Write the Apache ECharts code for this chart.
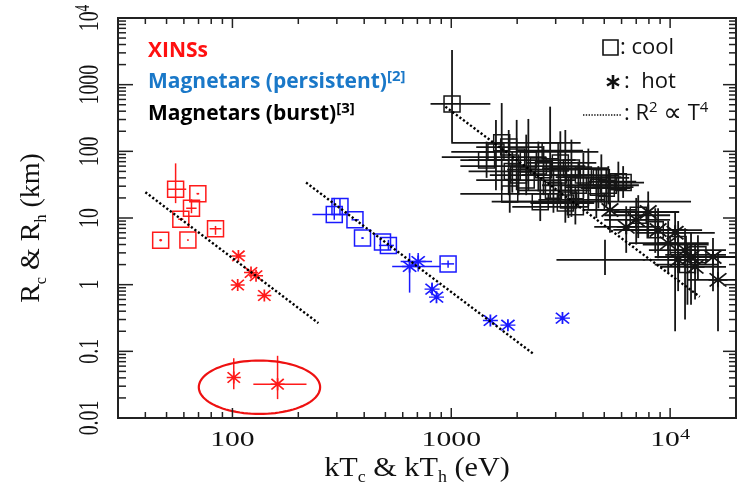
<!DOCTYPE html>
<html><head><meta charset="utf-8">
<script src="https://cdn.jsdelivr.net/npm/echarts@6/dist/echarts.min.js"></script>
<style>html,body{margin:0;padding:0;background:#fff}#c{width:747px;height:488px}</style>
</head><body><div id="c"></div>
<script>
// rows: [kT (eV), R (km), kT low, kT high, R low, R high]  (null = no error bar)
const xinsCool = [
  [55, 27, 50.4, 61.5, 16.7, 66],
  [69.5, 23.2, 68.5, 70.5, 22.6, 23.8],
  [65, 14, 61.5, 68.6, 11.8, 19.1],
  [58.1, 9.6, 56.5, 59.7, 9.2, 10.0],
  [83.7, 6.9, 78.7, 89, 5.6, 7.6],
  [47, 4.65, 46.3, 47.7, 4.45, 4.85],
  [62.6, 4.66, 62.2, 63.0, 4.55, 4.77]
];
const xinsHot = [
  [106.5, 2.7, null, null, null, null],
  [105.7, 0.99, null, null, null, null],
  [121.6, 1.52, null, null, null, null],
  [128.2, 1.36, null, null, null, null],
  [139.9, 0.687, null, null, null, null],
  [101.4, 0.0405, null, null, 0.0271, 0.079],
  [160.8, 0.0322, 124.6, 218, 0.0192, 0.0857]
];
const persCool = [
  [292, 11.3, 232, 330, 9.4, 20],
  [310, 14.9, null, null, 11, 19.5],
  [363, 9.4, 350, 378, null, null],
  [393, 5.0, 388, 398, 4.85, 5.15],
  [485, 4.38, null, null, null, null],
  [516, 3.88, 467, 547, 3.3, 4.7],
  [967, 2.05, 900, 1030, 1.8, 2.3]
];
const persHot = [
  [645, 1.87, 537, 893, 0.76, 2.97],
  [706, 2.22, 587, 817, 1.57, 2.98],
  [817, 0.857, null, null, 0.76, 1.08],
  [856, 0.65, null, null, null, null],
  [1509, 0.29, null, null, null, null],
  [1815, 0.247, null, null, null, null],
  [3222, 0.315, null, null, null, null]
];
const burstCool = [
  [1008, 514, 804, 1509, 137, 3311],
  [1700, 134, 1000, 3900, 26, 530],
  [1600, 98, 1000, 4700, 26, 296],
  [1990, 82, 905, 2720, 26, 296],
  [2250, 74, 1200, 3700, 26, 306],
  [2830, 102, 2000, 4000, 18.7, 468],
  [3150, 67, 2200, 4600, 20, 200],
  [3540, 56, 2600, 5200, 10.4, 150],
  [4230, 41, 3000, 6000, 15, 110],
  [4850, 40, 3500, 6500, 17, 90],
  [5800, 35, 4200, 7000, 18, 70],
  [6100, 34, 4800, 7600, 20, 60],
  [3690, 14.7, 1900, 4230, 8, 30],
  [3430, 18.7, 2500, 5000, 10, 40],
  [4700, 29, 3300, 6800, 14, 60],
  [3320, 16.8, 2300, 4500, 8.5, 209],
  [5110, 28, 3900, 6600, 15, 55],
  [1830, 116, 1300, 2600, 22, 209],
  [1450, 74, 1100, 2000, 40, 140],
  [2640, 53, 1800, 3800, 22, 120],
  [2500, 60, 1100, 4100, 25, 140],
  [3090, 44, 2100, 4500, 18, 100],
  [3810, 31, 2600, 5500, 14, 70],
  [1900, 50, 1200, 2870, 24, 100],
  [2030, 44, 1500, 2700, 22, 90],
  [4015, 44, 2800, 5800, 20, 95],
  [5220, 31, 3800, 7200, 16, 60],
  [2930, 26, 2000, 4300, 12, 55],
  [2200, 37, 1300, 3700, 22, 178],
  [1850, 23, 1100, 3090, 12, 50],
  [2550, 17.6, 1530, 4230, 9, 40],
  [4600, 17.6, 1700, 12460, 10, 30],
  [8550, 6.65, 5500, 12000, 3, 14],
  [10880, 4.0, 7500, 15000, 1.5, 9],
  [13400, 2.8, 9500, 18000, 1.2, 5.5],
  [12000, 2.0, 8500, 16500, 0.5, 4],
  [7150, 11, 5000, 10000, 5, 22]
];
const burstHot = [
  [5310, 13.2, 4000, 7000, 6, 30],
  [6300, 7.36, 4500, 9000, 3, 15],
  [7940, 12.3, 5500, 11000, 5, 25],
  [7000, 9.4, 5000, 10000, 4, 20],
  [8810, 6.6, 6000, 14000, 2.5, 14],
  [10540, 6.0, 7000, 16000, 0.2, 12],
  [9800, 4.2, 6500, 15000, 1.5, 9],
  [11700, 3.3, 8000, 18000, 0.3, 7],
  [12460, 2.6, 8500, 19000, 0.5, 6],
  [15700, 2.6, 11000, 20000, 0.8, 5],
  [16550, 1.18, 12000, 20000, 0.2, 3],
  [13000, 1.85, 9000, 18000, 0.6, 4],
  [10880, 2.35, 7500, 15000, 0.8, 5]
];
// burst measurement shown only as an error cross (no symbol visible)
const burstCross = [
  [5040, 2.35, 3024, 7690, 1.4, 4.7]
];
// R^2 ∝ T^4 guide lines: [kT, R] endpoints
const fitXins = [[40, 24.4], [247, 0.265]];
const fitPers = [[217, 34], [2400, 0.089]];
const fitBurst = [[940, 468], [13650, 0.66]];
// ellipse around the two burst XINS points: [kT min, R min, kT max, R max]
const burstEllipse = [[70.2, 0.0115, 251.6, 0.0728]];

const xMajorTicks = [100, 1000, 10000];
const xTickLabels = ['100', '1000', '10{sup|4}'];
const xMinorTicks = [40,50,60,70,80,90,200,300,400,500,600,700,800,900,2000,3000,4000,5000,6000,7000,8000,9000];
const yMajorTicks = [0.01, 0.1, 1, 10, 100, 1000, 10000];
const yTickLabels = ['0.01', '0.1', '1', '10', '100', '1000', '10{sup|4}'];
const yMinorTicks = [0.02,0.03,0.04,0.05,0.06,0.07,0.08,0.09,
  0.2,0.3,0.4,0.5,0.6,0.7,0.8,0.9, 2,3,4,5,6,7,8,9,
  20,30,40,50,60,70,80,90, 200,300,400,500,600,700,800,900,
  2000,3000,4000,5000,6000,7000,8000,9000];

const RED = '#ff1a1a', BLUE = '#1a1aff', BLK = '#151515';
const SERIF = '"Liberation Serif", "Times New Roman", serif';
const SANS = '"Open Sans", Lato, sans-serif';
const STAR = 'path://M0,5L10,5M5,0L5,10M0.6,0.6L9.4,9.4M0.6,9.4L9.4,0.6';

const chart = echarts.init(document.getElementById('c'), null, {renderer: 'canvas'});

function errSeries(rows, color, width) {
  return {
    type: 'custom', silent: true, z: 2,
    dimensions: ['kT', 'R', 'kTlo', 'kThi', 'Rlo', 'Rhi'],
    encode: {x: 0, y: 1},
    data: rows,
    renderItem: function (params, api) {
      const x = api.value(0), y = api.value(1);
      const xl = api.value(2), xh = api.value(3), yl = api.value(4), yh = api.value(5);
      const style = {stroke: color, lineWidth: width, fill: null};
      const ch = [];
      if (xl > 0 && xh > 0) {
        const a = api.coord([xl, y]), b = api.coord([xh, y]);
        ch.push({type: 'line', shape: {x1: a[0], y1: a[1], x2: b[0], y2: b[1]}, style: style});
      }
      if (yl > 0 && yh > 0) {
        const a = api.coord([x, yl]), b = api.coord([x, yh]);
        ch.push({type: 'line', shape: {x1: a[0], y1: a[1], x2: b[0], y2: b[1]}, style: style});
      }
      return {type: 'group', children: ch};
    }
  };
}
function coolSeries(rows, color, width) {
  return {
    type: 'scatter', silent: true, z: 3,
    data: rows.map(r => [r[0], r[1]]),
    symbol: 'rect', symbolSize: 16,
    itemStyle: {color: 'rgba(0,0,0,0)', borderColor: color, borderWidth: width, opacity: 1}
  };
}
function hotSeries(rows, color, size, width) {
  return {
    type: 'scatter', silent: true, z: 3,
    data: rows.map(r => [r[0], r[1]]),
    symbol: STAR, symbolSize: size,
    itemStyle: {color: 'rgba(0,0,0,0)', borderColor: color, borderWidth: width, opacity: 1}
  };
}
function fitSeries(pts) {
  return {
    type: 'line', silent: true, z: 4, data: pts, symbol: 'none',
    lineStyle: {color: '#000', width: 2.4, type: [2.2, 2.2], cap: 'butt'}
  };
}

const tickStyle = {stroke: '#222', lineWidth: 1.5};
const xTickData = xMajorTicks.map((v, i) => [v, 1, 1, i]).concat(xMinorTicks.map(v => [v, 1, 0, -1]));
const yTickData = yMajorTicks.map((v, i) => [100, v, 1, i]).concat(yMinorTicks.map(v => [100, v, 0, -1]));

const xTickSeries = {
  type: 'custom', silent: true, z: 5, data: xTickData, encode: {x: 0, y: 1},
  renderItem: function (params, api) {
    const cs = params.coordSys;
    const px = api.coord([api.value(0), api.value(1)])[0];
    const major = api.value(2) === 1;
    const L = major ? 10 : 6;
    const bottom = cs.y + cs.height, top = cs.y;
    const ch = [
      {type: 'line', shape: {x1: px, y1: bottom, x2: px, y2: bottom - L}, style: tickStyle},
      {type: 'line', shape: {x1: px, y1: top, x2: px, y2: top + L}, style: tickStyle}
    ];
    if (major) {
      ch.push({type: 'text', x: px, y: bottom + 22, scaleX: 1.35,
        style: {text: xTickLabels[api.value(3)], fontFamily: SERIF, fontSize: 22, lineHeight: 24,
          fill: '#111', align: 'center', verticalAlign: 'middle',
          rich: {sup: {fontFamily: SERIF, fontSize: 15, lineHeight: 15, verticalAlign: 'top', fill: '#111'}}}});
    }
    return {type: 'group', children: ch};
  }
};
const yTickSeries = {
  type: 'custom', silent: true, z: 5, data: yTickData, encode: {x: 0, y: 1},
  renderItem: function (params, api) {
    const cs = params.coordSys;
    const py = api.coord([api.value(0), api.value(1)])[1];
    const major = api.value(2) === 1;
    const L = major ? 15 : 8;
    const left = cs.x, right = cs.x + cs.width;
    const ch = [
      {type: 'line', shape: {x1: left, y1: py, x2: left + L, y2: py}, style: tickStyle},
      {type: 'line', shape: {x1: right, y1: py, x2: right - (major ? 13 : 7), y2: py}, style: tickStyle}
    ];
    if (major) {
      ch.push({type: 'text', x: left - 28, y: py, rotation: Math.PI / 2, scaleX: 0.66,
        style: {text: yTickLabels[api.value(3)], fontFamily: SERIF, fontSize: 30, lineHeight: 32,
          fill: '#111', align: 'center', verticalAlign: 'middle',
          rich: {sup: {fontFamily: SERIF, fontSize: 20, lineHeight: 20, verticalAlign: 'top', fill: '#111'}}}});
    }
    return {type: 'group', children: ch};
  }
};
const ellipseSeries = {
  type: 'custom', silent: true, z: 4, data: burstEllipse, encode: {x: 0, y: 1},
  renderItem: function (params, api) {
    const p1 = api.coord([api.value(0), api.value(3)]);
    const p2 = api.coord([api.value(2), api.value(1)]);
    const cx = (p1[0] + p2[0]) / 2, cy = (p1[1] + p2[1]) / 2;
    const rx = Math.abs(p2[0] - p1[0]) / 2, ry = Math.abs(p2[1] - p1[1]) / 2;
    const pts = [];
    for (let i = 0; i < 96; i++) {
      const t = i / 96 * Math.PI * 2;
      pts.push([cx + rx * Math.cos(t), cy + ry * Math.sin(t)]);
    }
    return {type: 'polygon', shape: {points: pts}, style: {fill: null, stroke: '#ee1111', lineWidth: 2.2}};
  }
};

const option = {
  animation: false,
  backgroundColor: '#fff',
  grid: {left: 118, right: 11, top: 18, bottom: 70, show: true, borderColor: '#222', borderWidth: 2, backgroundColor: 'transparent'},
  xAxis: {type: 'log', logBase: 10, min: 30, max: 20000,
    axisLine: {show: false}, axisTick: {show: false}, axisLabel: {show: false}, splitLine: {show: false}},
  yAxis: {type: 'log', logBase: 10, min: 0.01, max: 10000,
    axisLine: {show: false}, axisTick: {show: false}, axisLabel: {show: false}, splitLine: {show: false}},
  series: [
    errSeries(burstCool, BLK, 1.8),
    errSeries(burstHot, BLK, 1.8),
    errSeries(burstCross, BLK, 1.8),
    errSeries(xinsCool, RED, 1.5),
    errSeries(xinsHot, RED, 1.5),
    errSeries(persCool, BLUE, 1.5),
    errSeries(persHot, BLUE, 1.5),
    coolSeries(burstCool, BLK, 1.5),
    hotSeries(burstHot, BLK, [19, 15], 1.8),
    coolSeries(xinsCool, RED, 1.5),
    hotSeries(xinsHot, RED, [14, 12], 1.6),
    coolSeries(persCool, BLUE, 1.5),
    hotSeries(persHot, BLUE, [15, 12], 1.6),
    fitSeries(fitXins), fitSeries(fitPers), fitSeries(fitBurst),
    ellipseSeries,
    xTickSeries, yTickSeries
  ],
  graphic: [
    {type: 'text', x: 148, y: 51, style: {text: 'XINSs', font: 'bold 21px ' + SANS, fill: '#ff1010', verticalAlign: 'middle'}},
    {type: 'text', x: 148, y: 82, style: {text: 'Magnetars (persistent){sup|[2]}', fontFamily: SANS, fontWeight: 'bold', fontSize: 21, lineHeight: 26,
      fill: '#1a78c8', verticalAlign: 'middle', rich: {sup: {fontFamily: SANS, fontWeight: 'bold', fontSize: 15, lineHeight: 15, verticalAlign: 'top', fill: '#1a78c8'}}}},
    {type: 'text', x: 148, y: 114, style: {text: 'Magnetars (burst){sup|[3]}', fontFamily: SANS, fontWeight: 'bold', fontSize: 21, lineHeight: 26,
      fill: '#000', verticalAlign: 'middle', rich: {sup: {fontFamily: SANS, fontWeight: 'bold', fontSize: 15, lineHeight: 15, verticalAlign: 'top', fill: '#000'}}}},
    {type: 'rect', shape: {x: 603, y: 40, width: 15, height: 15}, style: {fill: null, stroke: '#111', lineWidth: 1.6}},
    {type: 'text', x: 620, y: 48, style: {text: ': cool', font: '22px ' + SANS, fill: '#111', verticalAlign: 'middle'}},
    {type: 'group', x: 613, y: 82, children: [
      {type: 'line', shape: {x1: 0, y1: -7, x2: 0, y2: 7}, style: {stroke: '#111', lineWidth: 2.6}},
      {type: 'line', shape: {x1: -6, y1: -3.5, x2: 6, y2: 3.5}, style: {stroke: '#111', lineWidth: 2.6}},
      {type: 'line', shape: {x1: -6, y1: 3.5, x2: 6, y2: -3.5}, style: {stroke: '#111', lineWidth: 2.6}}
    ]},
    {type: 'text', x: 624, y: 82, style: {text: ':  hot', font: '22px ' + SANS, fill: '#111', verticalAlign: 'middle'}},
    {type: 'line', shape: {x1: 583, y1: 115, x2: 622, y2: 115}, style: {stroke: '#111', lineWidth: 1.5, lineDash: [1.4, 1.4]}},
    {type: 'text', x: 624, y: 114, style: {text: ': R{sup|2} {big|∝} T{sup|4}', fontFamily: SANS, fontSize: 22, lineHeight: 28, fill: '#111', verticalAlign: 'middle',
      rich: {sup: {fontFamily: SANS, fontSize: 15, lineHeight: 15, verticalAlign: 'top', fill: '#111'},
             big: {fontFamily: '"DejaVu Sans", sans-serif', fontSize: 26, lineHeight: 28, fill: '#111'}}}},
    {type: 'text', x: 417, y: 469, scaleX: 1.12, style: {text: 'kT{sub|c} & kT{sub|h} (eV)', fontFamily: SERIF, fontSize: 27, lineHeight: 34,
      fill: '#111', align: 'center', verticalAlign: 'middle',
      rich: {sub: {fontFamily: SERIF, fontSize: 16, lineHeight: 16, verticalAlign: 'bottom', fill: '#111'}}}},
    {type: 'text', x: 32, y: 228, rotation: Math.PI / 2, style: {text: 'R{sub|c} & R{sub|h} (km)', fontFamily: SERIF, fontSize: 28, lineHeight: 35,
      fill: '#111', align: 'center', verticalAlign: 'middle',
      rich: {sub: {fontFamily: SERIF, fontSize: 16, lineHeight: 16, verticalAlign: 'bottom', fill: '#111'}}}}
  ]
};
chart.setOption(option);
</script></body></html>
